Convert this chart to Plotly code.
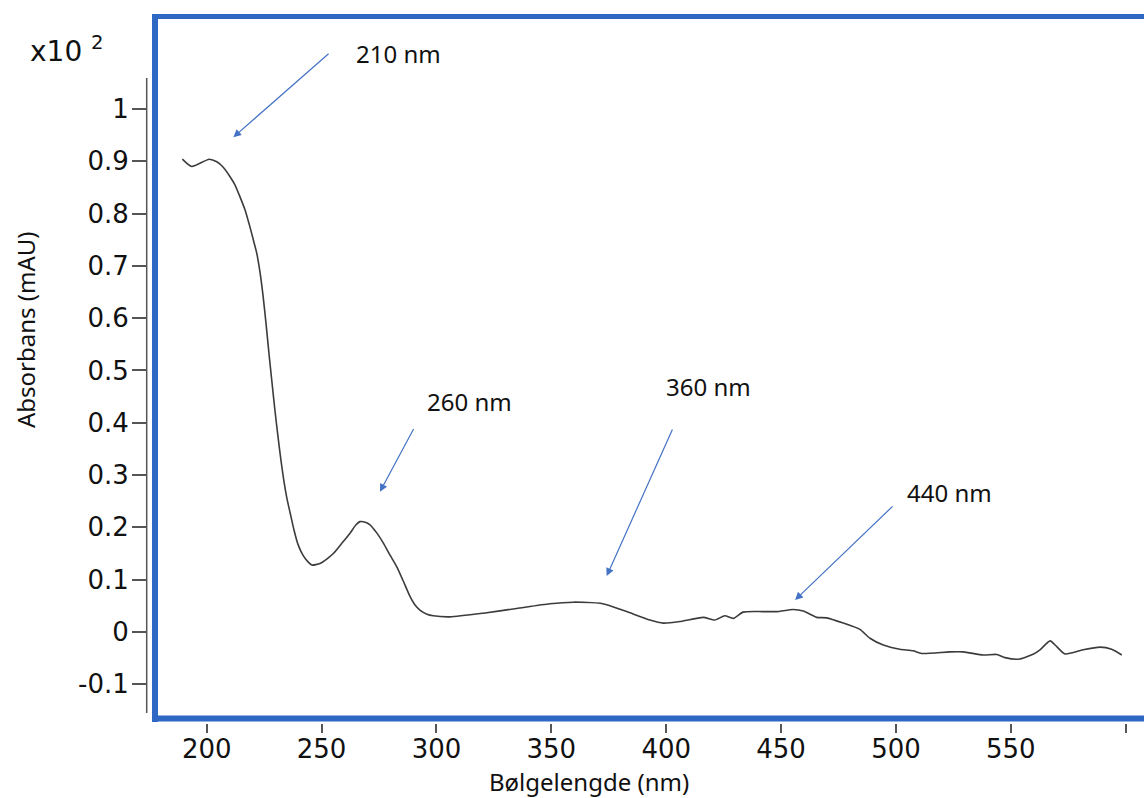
import plotly.graph_objects as go

# ---- data ----
wavelength = [189.4, 193.5, 201.1, 204.4, 207.1, 210.1, 212.3, 214.5, 216.7, 218.8, 220.4,
              221.8, 223.2, 224.5, 225.8, 227.1, 228.4, 229.7, 231.0, 232.3, 233.6, 234.9,
              236.3, 238.0, 239.7, 241.9, 244.1, 245.8, 249.3, 252.4, 255.1, 258.9, 262.4,
              265.0, 266.7, 269.0, 271.1, 274.1, 276.9, 279.8, 282.7, 285.4, 288.5, 290.6,
              292.8, 295.9, 298.6, 305.9, 320.4, 334.9, 349.4, 359.6,
              371.3, 374.1, 382.8, 392.9, 398.7, 406.0, 416.1, 421.2, 425.5, 429.2, 433.5,
              442.2, 448.1, 455.3, 459.7, 465.5, 469.8, 477.1, 484.3, 488.7, 494.5, 501.7,
              507.5, 511.2, 523.5, 529.3, 538.0, 543.9, 547.5, 553.3, 559.9, 562.7, 567.1,
              570.0, 573.6, 581.5, 588.8, 593.9, 598.3]
absorbance = [0.904, 0.890, 0.904, 0.899, 0.889, 0.871, 0.855, 0.832, 0.807, 0.775, 0.748,
              0.724, 0.688, 0.644, 0.591, 0.533, 0.478, 0.424, 0.375, 0.329, 0.289, 0.256,
              0.228, 0.195, 0.168, 0.147, 0.134, 0.128, 0.131, 0.140, 0.150, 0.170, 0.189,
              0.205, 0.211, 0.210, 0.205, 0.189, 0.170, 0.147, 0.125, 0.099, 0.068, 0.052,
              0.042, 0.034, 0.031, 0.029, 0.036, 0.045, 0.054, 0.057,
              0.055, 0.052, 0.039, 0.023, 0.017, 0.020, 0.028, 0.023, 0.031, 0.026, 0.038,
              0.039, 0.039, 0.043, 0.040, 0.028, 0.027, 0.017, 0.005, -0.012, -0.025, -0.033,
              -0.036, -0.041, -0.038, -0.038, -0.044, -0.043, -0.049, -0.052, -0.042, -0.034, -0.017,
              -0.028, -0.042, -0.034, -0.029, -0.033, -0.044]

x_tickvals = [200, 250, 300, 350, 400, 450, 500, 550, 600]
x_ticktext = ["200", "250", "300", "350", "400", "450", "500", "550", ""]
y_tickvals = [-0.1, 0, 0.1, 0.2, 0.3, 0.4, 0.5, 0.6, 0.7, 0.8, 0.9, 1]
y_ticktext = ["-0.1", "0", "0.1", "0.2", "0.3", "0.4", "0.5", "0.6", "0.7", "0.8", "0.9", "1"]

peak_labels = ["210 nm", "260 nm", "360 nm", "440 nm"]
label_pos = [(283.7, 1.107), (314.4, 0.440), (418.2, 0.470), (523.3, 0.266)]
arrow_tips = [(211.6, 0.946), (275.4, 0.268), (374.1, 0.107), (456.1, 0.061)]
arrow_tails = [(253.7, 1.108), (290.4, 0.391), (403.0, 0.390), (499.2, 0.243)]

# ---- layout geometry ----
W, H = 1144, 798
L, R, T, B = 147, 4, 14, 75
PW, PH = W - L - R, H - T - B


def px(xp):
    return (xp - L) / PW


def py(yp):
    return (H - B - yp) / PH


BLUE = "#2f67c5"
ARROW = "#4472c4"
TXT_FONT = dict(family="Noto Sans, Open Sans, sans-serif", size=24, color="#111111")
TICK_FONT = dict(family="DejaVu Sans, sans-serif", size=26, color="#111111")

fig = go.Figure()
fig.add_trace(go.Scatter(
    x=wavelength, y=absorbance, mode="lines",
    line=dict(color="#3c3c3c", width=1.6, shape="spline", smoothing=0.6),
    showlegend=False, hoverinfo="skip",
))

annotations = []
for (tx, ty), (hx, hy) in zip(arrow_tails, arrow_tips):
    annotations.append(dict(
        x=hx, y=hy, ax=tx, ay=ty, xref="x", yref="y", axref="x", ayref="y",
        text="", showarrow=True, arrowhead=2, arrowsize=1.3, arrowwidth=1.2,
        arrowcolor=ARROW,
    ))
for txt, (lx, ly) in zip(peak_labels, label_pos):
    annotations.append(dict(x=lx, y=ly, xref="x", yref="y", text=txt,
                            xanchor="center", yanchor="middle",
                            showarrow=False, font=TXT_FONT))

annotations.append(dict(x=px(28), y=py(49), xref="paper", yref="paper",
                        xanchor="left", yanchor="middle", showarrow=False,
                        text="x10 <sup>2</sup>", font=dict(TICK_FONT, size=28)))
annotations.append(dict(x=px(25), y=py(330), xref="paper", yref="paper",
                        xanchor="center", yanchor="middle",
                        textangle=-90, showarrow=False,
                        text="Absorbans (mAU)", font=TXT_FONT))
annotations.append(dict(x=px(589), y=py(781), xref="paper", yref="paper",
                        xanchor="center", yanchor="middle",
                        showarrow=False, text="Bølgelengde (nm)", font=TXT_FONT))

shapes = [
    # y axis line
    dict(type="line", xref="paper", yref="paper", x0=px(146.7), x1=px(146.7),
         y0=py(78), y1=py(713), line=dict(color="#555555", width=1.5)),
    # blue frame
    dict(type="line", xref="paper", yref="paper", x0=px(155), x1=px(155),
         y0=py(14), y1=py(722), line=dict(color=BLUE, width=6)),
    dict(type="line", xref="paper", yref="paper", x0=px(152), x1=px(1150),
         y0=py(16.5), y1=py(16.5), line=dict(color=BLUE, width=5)),
    dict(type="line", xref="paper", yref="paper", x0=px(152), x1=px(1150),
         y0=py(718.5), y1=py(718.5), line=dict(color=BLUE, width=6)),
]

fig.update_layout(
    width=W, height=H,
    margin=dict(l=L, r=R, t=T, b=B),
    paper_bgcolor="white", plot_bgcolor="white",
    annotations=annotations, shapes=shapes,
    xaxis=dict(range=[174.02, 606.23], tickvals=x_tickvals, ticktext=x_ticktext,
               ticks="outside", ticklen=9, tickwidth=1.5, tickcolor="#555555",
               ticklabelstandoff=-6,
               showgrid=False, zeroline=False, showline=False, tickfont=TICK_FONT),
    yaxis=dict(range=[-0.174, 1.1816], tickvals=y_tickvals, ticktext=y_ticktext,
               ticks="outside", ticklen=14, tickwidth=1.5, tickcolor="#555555",
               ticklabelstandoff=-2,
               showgrid=False, zeroline=False, showline=False, tickfont=TICK_FONT),
)

fig.write_html("out.html")
